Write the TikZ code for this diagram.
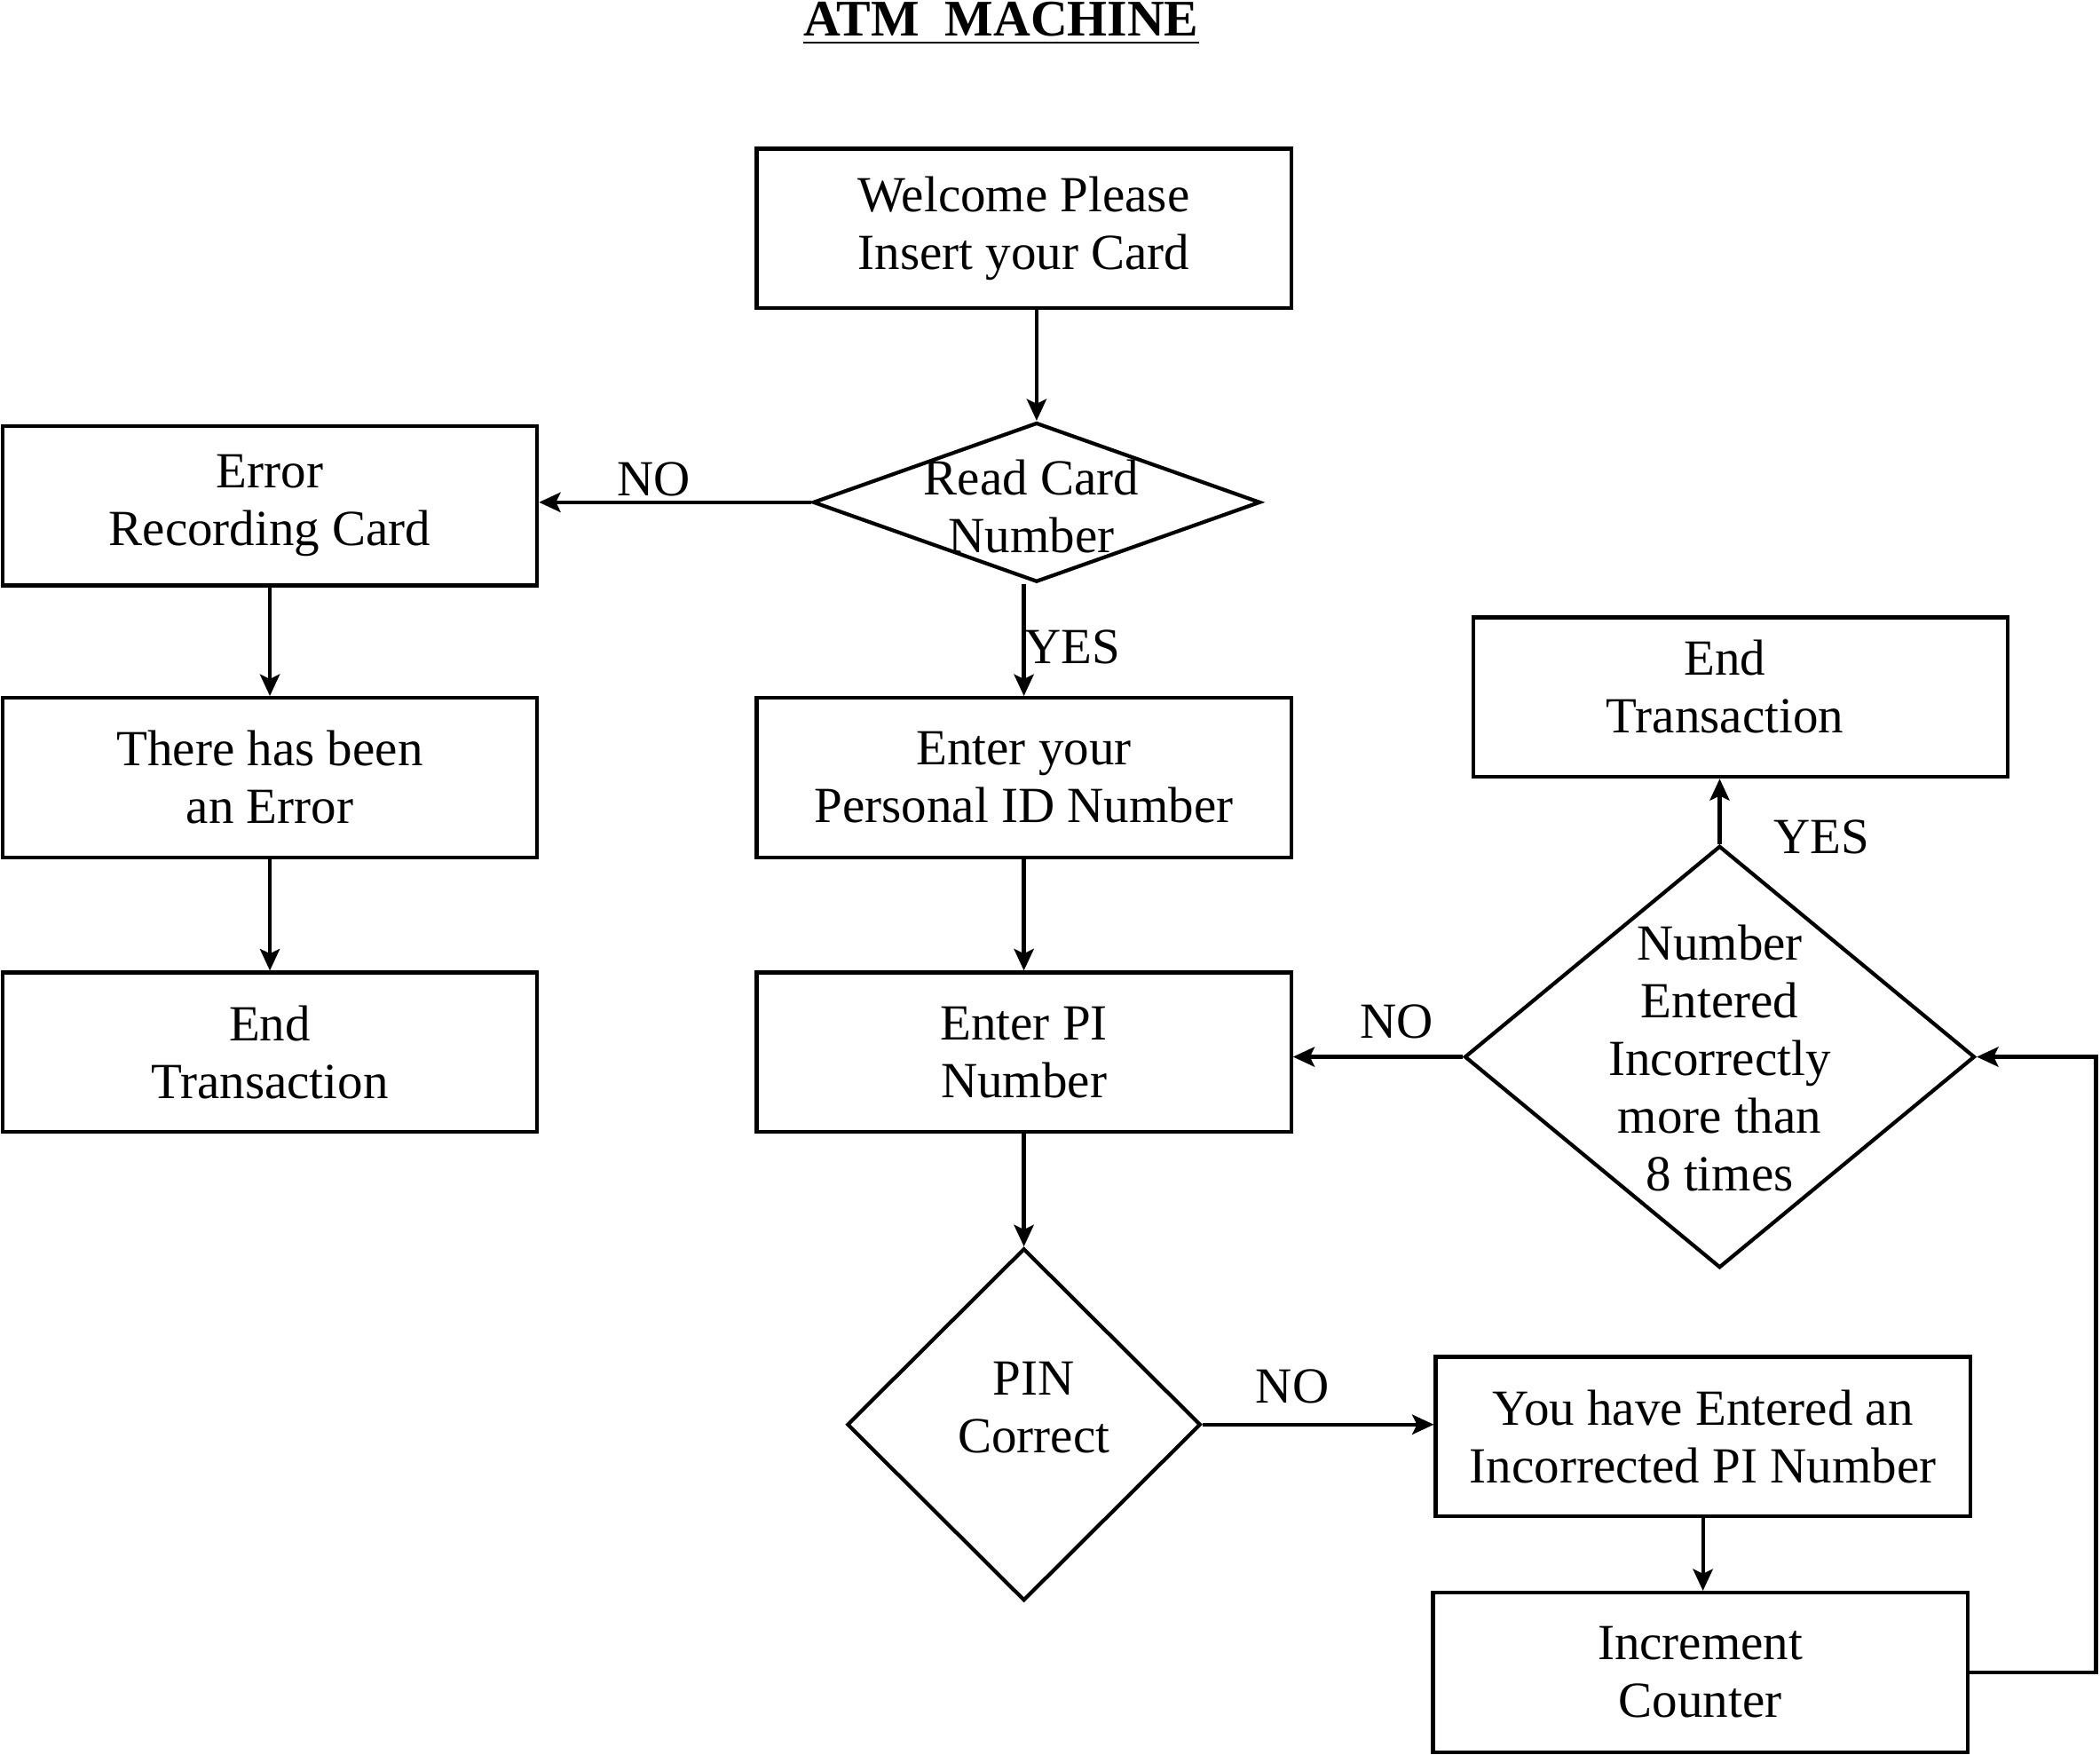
\documentclass[tikz,border=0pt]{standalone}
\usepackage{fontspec}
\setmainfont{Liberation Serif}
\usetikzlibrary{positioning,shapes.geometric,arrows.meta}
\tikzset{
    base/.style={
        draw=black,
        line width=0.8pt,
    },
    % Process step
    box/.style={
        base,
        rectangle,
        minimum width=3.99cm,
        minimum height=1.19cm,
        align=center,
    },
    % Decision
    decision/.style={
        base,
        diamond,
        inner sep=0pt,
    },
    % Connector
    arrow/.style={
        base,
        -{Stealth[length=4.6pt,width=4.2pt,inset=1pt]},
    },
    % Yes/No answer
    answer/.style={
        inner sep=1pt,
    },
}

\begin{document}
\begin{tikzpicture}[font=\fontsize{10.75pt}{12.25pt}\selectfont]
    \useasboundingbox (0,0) rectangle (15.68,13.10);
%TITLE_BEGIN%
    \node[anchor=base,inner sep=0pt] (title) at (7.475,12.834) {\fontsize{10.9pt}{12pt}\selectfont\textbf{\underline{ATM\ \ MACHINE}}};
%TITLE_END%

%FLOW_BEGIN%
    \node[box] (welcome) at (7.645,11.395) {Welcome Please\\Insert your Card};
    \node[decision,minimum width=3.34cm,minimum height=1.19cm] (read) at (7.74,9.35) {};
    \node[align=center] at (7.70,9.32) {Read Card\\Number};
    \node[box] (error) at (2.015,9.325) {Error\\Recording Card};
    \node[box] (errmsg) at (2.015,7.295) {There has been\\an Error};
    \node[box] (endleft) at (2.015,5.245) {End\\Transaction};
    \node[box] (enterid) at (7.645,7.295) {Enter your\\Personal ID Number};
    \node[box] (enterpi) at (7.645,5.245) {Enter PI\\Number};
    \node[decision,minimum width=2.64cm,minimum height=2.63cm] (pin) at (7.645,2.465) {};
    \node[align=center] at (7.72,2.59) {PIN\\Correct};
    \node[box] (wrong) at (12.715,2.375) {You have Entered an\\Incorrected PI Number};
    \node[box] (incr) at (12.695,0.615) {Increment\\Counter};
    \node[decision,minimum width=3.81cm,minimum height=3.15cm] (count) at (12.84,5.21) {};
    \node[align=center] at (12.84,5.20) {Number\\Entered\\Incorrectly\\more than\\8 times};
    \node[box] (endright) at (12.995,7.895) {};
    \node[align=center] at (12.88,7.975) {End\\Transaction};
    \coordinate (loop) at (15.65,5.21);
%FLOW_END%

%ARROWS_BEGIN%
    \draw[arrow] (welcome.south -| read.north) -- (read.north);
    \draw[arrow] (read.west) -- (error.east |- read.west);
    \draw[arrow] (error) -- (errmsg);
    \draw[arrow] (errmsg) -- (endleft);
    \draw[arrow] (read.south -| enterid.north) -- (enterid.north);
    \draw[arrow] (enterid) -- (enterpi);
    \draw[arrow] (enterpi) -- (pin);
    \draw[arrow] (pin.east) -- (pin.east -| wrong.west);
    \draw[arrow] (wrong.south) -- (wrong.south |- incr.north);
    \draw[arrow] (incr.east) -| (loop) -- (count.east);
    \draw[arrow] (count.west) -- (count.west -| enterpi.east);
    \draw[arrow] (count.north) -- (count.north |- endright.south);
    % Answers
    \node[answer] (no1) at (4.88,9.52) {NO};
    \node[answer] (yes1) at (8.01,8.27) {YES};
    \node[answer] (yes2) at (13.60,6.85) {YES};
    \node[answer] (no2) at (10.43,5.47) {NO};
    \node[answer] (no3) at (9.65,2.75) {NO};
%ARROWS_END%
\end{tikzpicture}
\end{document}
